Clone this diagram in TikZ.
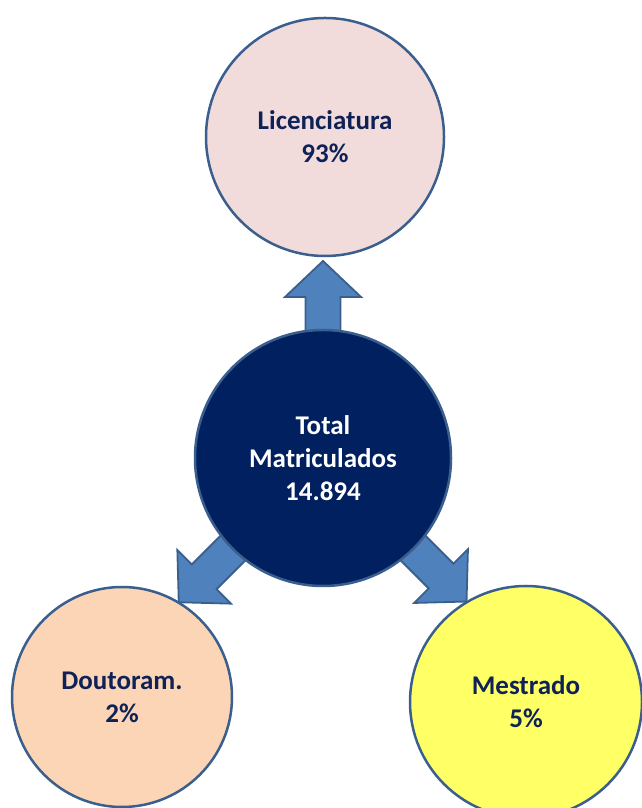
\documentclass[tikz,border=0pt]{standalone}
\usepackage{fontspec}
\setmainfont{Carlito}
\definecolor{edgeblue}{HTML}{3A5F8E}
\definecolor{arrowblue}{HTML}{4F81BD}
\definecolor{navy}{HTML}{002060}
\definecolor{txtnavy}{HTML}{0F2258}
\definecolor{pinkfill}{HTML}{F2DCDB}
\definecolor{peachfill}{HTML}{FBD5B5}
\definecolor{yellowfill}{HTML}{FFFF66}
\tikzset{
  bubble/.style={circle, draw=edgeblue, line width=2.5pt, inner sep=0pt, align=center,
     font=\bfseries\fontsize{27}{33}\selectfont, text=txtnavy},
  blockarrow/.style={fill=arrowblue, draw=edgeblue, line width=1.8pt, line join=miter},
}
\begin{document}
\begin{tikzpicture}[x=1pt,y=1pt]
\useasboundingbox (0,0) rectangle (642,808);
\clip (0,0) rectangle (642,808);
% outer circles
\node[bubble, fill=pinkfill, minimum size=238pt] (lic) at (325,671) {Licenciatura\\93\%};
\node[bubble, fill=peachfill, minimum size=220pt] (dout) at (122,111) {Doutoram.\\2\%};
\node[bubble, fill=yellowfill, minimum size=232pt] (mest) at (526,106) {Mestrado\\5\%};
% centre anchor for the arrows
\coordinate (c) at (323,350);
% block arrows
\foreach \ang/\len in {90/197, 225/204, -45/203}{
  \begin{scope}[shift={(c)}, rotate=\ang]
    \draw[blockarrow] (60,-17.5) -- (\len-36,-17.5) -- (\len-36,-38) -- (\len,0)
      -- (\len-36,38) -- (\len-36,17.5) -- (60,17.5) -- cycle;
  \end{scope}
}
% centre circle
\node[bubble, fill=navy, text=white, minimum size=256pt] (tot) at (c) {Total\\Matriculados\\14.894};
\end{tikzpicture}
\end{document}
